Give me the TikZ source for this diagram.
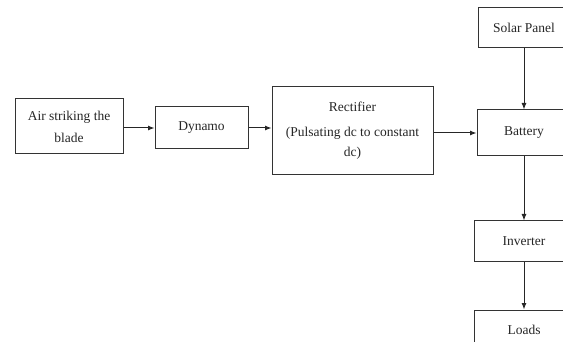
\documentclass[tikz,border=0pt]{standalone}
\usepackage{fontspec}
\setmainfont{Liberation Serif}
\usepackage{tikz}
\usetikzlibrary{arrows.meta, positioning}

\begin{document}
\begin{tikzpicture}[
      x=1pt, y=-1pt,
      block/.style={rectangle, draw=black!80, line width=1pt, fill=white, text=black!85,
                    align=center, inner sep=2pt, font=\fontsize{13.5}{22}\selectfont},
      arrow/.style={-{Latex[length=6.5pt, width=5pt]}, draw=black!85, line width=1pt}
    ]
    \useasboundingbox (0,0) rectangle (563,342);
    \clip (0,0) rectangle (563,342);

    \node[block, minimum width=108pt, minimum height=55pt] (air) at (69,126.5) {Air striking the\\blade};
    \node[block, minimum width=93pt, minimum height=42pt] (dynamo) at (201.5,128) {Dynamo};
    \node[block, minimum width=161pt, minimum height=88pt] (rectifier) at (352.5,131)
        {Rectifier\\[3pt](Pulsating dc to constant\\[-2pt]dc)};
    \node[block, minimum width=92pt, minimum height=40pt] (solar) at (524,28) {Solar Panel};
    \node[block, minimum width=94pt, minimum height=46pt] (battery) at (524,133) {Battery};
    \node[block, minimum width=100pt, minimum height=41pt] (inverter) at (524,241.5) {Inverter};
    \node[block, minimum width=100pt, minimum height=40pt] (loads) at (524,330) {Loads};

    \draw[arrow] (air.east |- dynamo) -- (dynamo.west);
    \draw[arrow] (dynamo.east) -- (dynamo.east -| rectifier.west);
    \draw[arrow] (rectifier.east |- battery) -- (battery.west);
    \draw[arrow] (solar) -- (battery);
    \draw[arrow] (battery) -- (inverter);
    \draw[arrow] (inverter) -- (loads);
\end{tikzpicture}
\end{document}
